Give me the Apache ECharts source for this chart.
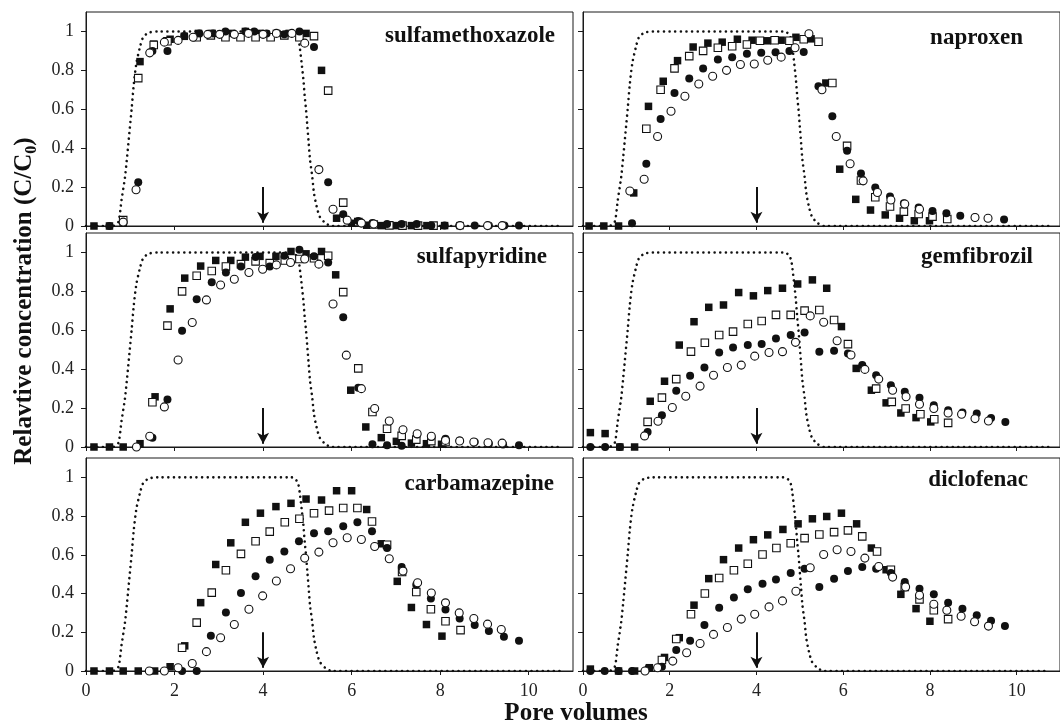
<!DOCTYPE html>
<html><head><meta charset="utf-8">
<script src="https://cdn.jsdelivr.net/npm/echarts@6/dist/echarts.min.js"></script>
<style>html,body{margin:0;padding:0;background:#fff}#c{width:1060px;height:727px}</style>
</head><body><div id="c"></div>
<script>
// ---------- data ----------
const xTicks = [0, 2, 4, 6, 8, 10];
const yTicks = [0, 0.2, 0.4, 0.6, 0.8, 1];
const panelTitles = ['sulfamethoxazole', 'naproxen', 'sulfapyridine', 'gemfibrozil', 'carbamazepine', 'diclofenac'];
const xAxisName = 'Pore volumes';
const yAxisName = 'Relavtive concentration (C/C';
const yAxisSub = '0';

// conservative tracer (dotted curve)
const tracer = [[0,0],[0.6,0],[0.73,0.02],[0.8,0.13],[0.88,0.25],[0.93,0.36],[0.98,0.48],[1.03,0.6],[1.08,0.73],[1.14,0.84],[1.22,0.92],[1.29,0.97],[1.41,0.993],[1.6,1],[4.65,1],[4.75,0.985],[4.8,0.96],[4.83,0.916],[4.87,0.838],[4.91,0.753],[4.94,0.667],[4.97,0.598],[5.0,0.512],[5.03,0.426],[5.06,0.34],[5.11,0.254],[5.15,0.168],[5.21,0.1],[5.28,0.048],[5.4,0.017],[5.55,0],[10.75,0]];
// end of injection arrow
const arrowX = 4, arrowTop = 0.2, arrowTip = 0.017;

// sulfamethoxazole
const smxFilledSquare = [[0.18,0],[0.53,0],[0.84,0.015],[1.22,0.845],[1.53,0.935],[1.9,0.96],[2.22,0.975],[2.54,0.99],[2.85,0.99],[3.29,0.99],[3.6,1.0],[3.93,0.99],[4.3,0.99],[4.59,0.99],[4.97,0.99],[5.32,0.8],[5.66,0.04],[6.0,0.014],[6.34,0.004],[6.67,0.002],[7.02,0.002],[7.35,0.002],[7.7,0.002],[8.1,0.002],[8.45,0.002]];
const smxOpenSquare = [[0.84,0.03],[1.18,0.76],[1.53,0.93],[1.84,0.95],[2.5,0.97],[2.82,0.98],[3.15,0.97],[3.49,0.97],[3.83,0.97],[4.17,0.97],[4.48,0.98],[4.82,0.97],[5.15,0.976],[5.47,0.696],[5.81,0.12],[6.15,0.02],[6.5,0.008],[6.85,0.003],[7.15,0.002],[7.5,0.002],[7.85,0.002]];
const smxFilledCircle = [[0.53,0],[0.84,0.02],[1.18,0.225],[1.5,0.9],[1.84,0.9],[2.22,0.976],[2.56,0.99],[2.87,0.99],[3.15,1.0],[3.6,1.0],[3.8,1.0],[4.08,0.99],[4.48,0.985],[4.82,1.0],[5.15,0.92],[5.47,0.225],[5.81,0.06],[6.15,0.026],[6.47,0.015],[6.8,0.01],[7.13,0.01],[7.47,0.01],[7.8,0.003],[8.1,0.003],[8.43,0.002],[8.78,0.002],[9.1,0.002],[9.45,0.002],[9.78,0.002]];
const smxOpenCircle = [[0.84,0.02],[1.13,0.186],[1.44,0.89],[1.77,0.945],[2.08,0.954],[2.42,0.97],[2.75,0.985],[3.02,0.985],[3.35,0.985],[3.67,0.99],[4.0,0.985],[4.3,0.99],[4.65,0.99],[4.94,0.94],[5.26,0.29],[5.58,0.086],[5.9,0.03],[6.22,0.015],[6.5,0.01],[8.45,0.002],[9.07,0.002],[9.4,0.002]];

// naproxen
const npxFilledSquare = [[0.14,0],[0.48,0],[0.82,0],[1.17,0.17],[1.51,0.615],[1.85,0.744],[2.18,0.85],[2.54,0.92],[2.88,0.94],[3.21,0.945],[3.56,0.96],[3.9,0.955],[4.25,0.952],[4.57,0.955],[4.91,0.97],[5.26,0.962],[5.6,0.735],[5.92,0.292],[6.29,0.137],[6.63,0.082],[6.97,0.057],[7.3,0.04],[7.64,0.027],[7.99,0.027]];
const npxOpenSquare = [[1.46,0.5],[1.79,0.7],[2.11,0.81],[2.45,0.873],[2.77,0.9],[3.11,0.916],[3.44,0.924],[3.78,0.933],[4.08,0.952],[4.42,0.955],[4.76,0.952],[5.09,0.96],[5.43,0.947],[5.75,0.735],[6.09,0.412],[6.41,0.234],[6.74,0.148],[7.08,0.1],[7.4,0.074],[7.74,0.062],[8.06,0.048],[8.4,0.036]];
const npxFilledCircle = [[1.13,0.014],[1.46,0.32],[1.79,0.55],[2.11,0.684],[2.45,0.758],[2.77,0.81],[3.11,0.856],[3.44,0.868],[3.78,0.885],[4.11,0.89],[4.44,0.893],[4.76,0.9],[5.09,0.895],[5.43,0.718],[5.75,0.564],[6.09,0.387],[6.41,0.27],[6.74,0.198],[7.08,0.151],[7.4,0.117],[7.74,0.095],[8.06,0.077],[8.38,0.065],[8.7,0.053],[9.04,0.045],[9.71,0.034]];
const npxOpenCircle = [[1.08,0.18],[1.41,0.24],[1.72,0.46],[2.03,0.59],[2.35,0.667],[2.67,0.73],[2.99,0.77],[3.31,0.8],[3.63,0.83],[3.95,0.833],[4.26,0.852],[4.57,0.868],[4.89,0.916],[5.21,0.988],[5.51,0.7],[5.84,0.46],[6.16,0.32],[6.46,0.232],[6.79,0.172],[7.1,0.134],[7.42,0.113],[7.76,0.086],[9.04,0.044],[9.34,0.04]];

// sulfapyridine
const spyFilledSquare = [[0.18,0],[0.53,0],[0.84,0],[1.22,0.017],[1.56,0.258],[1.9,0.71],[2.23,0.868],[2.59,0.93],[2.93,0.959],[3.27,0.959],[3.6,0.976],[3.93,0.98],[4.29,0.98],[4.63,1.005],[4.97,0.993],[5.32,1.005],[5.64,0.885],[5.98,0.292],[6.32,0.103],[6.67,0.048],[7.01,0.029],[7.35,0.02],[7.69,0.017],[8.03,0.014]];
const spyOpenSquare = [[1.5,0.23],[1.84,0.624],[2.17,0.8],[2.5,0.88],[2.84,0.905],[3.16,0.928],[3.5,0.94],[3.83,0.954],[4.15,0.945],[4.49,0.959],[4.82,0.966],[5.15,0.97],[5.47,0.983],[5.81,0.796],[6.15,0.404],[6.47,0.18],[6.8,0.094],[7.13,0.057],[7.46,0.038],[7.8,0.03],[8.12,0.026]];
const spyFilledCircle = [[1.5,0.048],[1.84,0.244],[2.17,0.598],[2.5,0.76],[2.84,0.847],[3.16,0.897],[3.5,0.928],[3.83,0.976],[4.15,0.928],[4.48,0.983],[4.82,1.014],[5.15,0.98],[5.47,0.948],[5.81,0.667],[6.15,0.304],[6.47,0.014],[6.8,0.009],[7.13,0.006],[7.48,0.064],[7.8,0.052],[8.12,0.043],[8.44,0.034],[8.78,0.026],[9.1,0.017],[9.42,0.013],[9.78,0.009]];
const spyOpenCircle = [[1.14,0],[1.44,0.055],[1.77,0.206],[2.08,0.447],[2.4,0.64],[2.72,0.756],[3.04,0.833],[3.35,0.862],[3.68,0.897],[3.99,0.914],[4.3,0.936],[4.62,0.948],[4.94,0.966],[5.26,0.94],[5.58,0.735],[5.88,0.472],[6.22,0.3],[6.52,0.198],[6.85,0.134],[7.16,0.089],[7.48,0.068],[7.8,0.055],[8.12,0.034],[8.44,0.031],[8.76,0.026],[9.08,0.022],[9.4,0.02]];

// gemfibrozil
const gemFilledSquare = [[0.17,0.074],[0.51,0.069],[0.85,0],[1.19,0],[1.55,0.235],[1.88,0.338],[2.22,0.524],[2.56,0.644],[2.9,0.718],[3.24,0.73],[3.59,0.794],[3.93,0.777],[4.26,0.804],[4.6,0.816],[4.95,0.838],[5.29,0.859],[5.62,0.816],[5.96,0.619],[6.3,0.404],[6.65,0.292],[6.99,0.227],[7.33,0.175],[7.68,0.151],[8.02,0.129]];
const gemOpenSquare = [[1.49,0.129],[1.82,0.254],[2.15,0.349],[2.49,0.49],[2.81,0.536],[3.14,0.576],[3.46,0.593],[3.8,0.632],[4.12,0.648],[4.45,0.679],[4.79,0.679],[5.11,0.701],[5.45,0.704],[5.79,0.653],[6.11,0.529],[6.76,0.3],[7.12,0.232],[7.44,0.198],[7.78,0.168],[8.1,0.143],[8.42,0.124]];
const gemFilledCircle = [[0.17,0],[0.51,0],[0.85,0],[1.49,0.077],[1.82,0.163],[2.15,0.289],[2.47,0.366],[2.8,0.409],[3.14,0.486],[3.46,0.512],[3.8,0.524],[4.12,0.529],[4.45,0.558],[4.79,0.576],[5.11,0.589],[5.45,0.49],[5.79,0.495],[6.11,0.481],[6.44,0.421],[6.76,0.369],[7.1,0.318],[7.42,0.284],[7.76,0.253],[8.09,0.215],[8.42,0.189],[8.75,0.177],[9.08,0.172],[9.41,0.149],[9.74,0.129]];
const gemOpenCircle = [[1.42,0.057],[1.73,0.132],[2.06,0.203],[2.37,0.261],[2.7,0.313],[3.01,0.369],[3.33,0.409],[3.65,0.421],[3.96,0.467],[4.29,0.486],[4.6,0.49],[4.9,0.538],[5.24,0.674],[5.55,0.641],[5.86,0.546],[6.18,0.473],[6.5,0.399],[6.82,0.349],[7.14,0.292],[7.45,0.258],[7.76,0.22],[8.09,0.198],[8.42,0.175],[8.73,0.168],[9.04,0.146],[9.35,0.134]];

// carbamazepine
const cbzFilledSquare = [[0.18,0],[0.53,0],[0.84,0],[1.18,0],[1.55,0],[1.9,0.022],[2.23,0.13],[2.59,0.353],[2.93,0.55],[3.27,0.662],[3.6,0.768],[3.94,0.815],[4.29,0.849],[4.63,0.866],[4.97,0.888],[5.32,0.883],[5.66,0.931],[6.0,0.931],[6.34,0.834],[6.67,0.657],[7.03,0.463],[7.35,0.328],[7.69,0.24],[8.04,0.18]];
const cbzOpenSquare = [[2.17,0.12],[2.5,0.25],[2.84,0.405],[3.16,0.52],[3.5,0.605],[3.83,0.67],[4.15,0.72],[4.49,0.768],[4.82,0.786],[5.15,0.815],[5.49,0.828],[5.81,0.842],[6.13,0.842],[6.46,0.772],[6.8,0.652],[7.14,0.511],[7.46,0.408],[7.79,0.319],[8.12,0.257],[8.46,0.211]];
const cbzFilledCircle = [[2.17,0],[2.5,0],[2.82,0.182],[3.16,0.302],[3.5,0.403],[3.83,0.489],[4.15,0.575],[4.48,0.617],[4.81,0.67],[5.15,0.712],[5.47,0.722],[5.81,0.748],[6.13,0.768],[6.46,0.722],[6.8,0.635],[7.13,0.537],[7.46,0.446],[7.79,0.374],[8.12,0.317],[8.44,0.271],[8.78,0.237],[9.1,0.206],[9.44,0.177],[9.78,0.156]];
const cbzOpenCircle = [[1.43,0],[1.77,0],[2.08,0.017],[2.4,0.039],[2.72,0.1],[3.04,0.172],[3.35,0.24],[3.68,0.319],[3.99,0.388],[4.3,0.465],[4.62,0.528],[4.94,0.583],[5.26,0.614],[5.58,0.662],[5.9,0.688],[6.22,0.679],[6.52,0.643],[6.85,0.58],[7.16,0.516],[7.49,0.456],[7.8,0.403],[8.12,0.352],[8.43,0.3],[8.76,0.271],[9.07,0.242],[9.38,0.214]];

// diclofenac
const dclFilledSquare = [[0.17,0.01],[0.82,0],[1.19,0],[1.53,0.017],[1.88,0.07],[2.22,0.172],[2.56,0.34],[2.9,0.477],[3.24,0.575],[3.59,0.635],[3.93,0.678],[4.26,0.703],[4.61,0.731],[4.96,0.76],[5.29,0.786],[5.62,0.798],[5.96,0.815],[6.31,0.76],[6.65,0.635],[6.99,0.523],[7.33,0.396],[7.68,0.322],[8.0,0.257]];
const dclOpenSquare = [[1.82,0.057],[2.15,0.165],[2.49,0.293],[2.81,0.4],[3.14,0.48],[3.48,0.52],[3.8,0.554],[4.14,0.602],[4.46,0.635],[4.79,0.66],[5.11,0.686],[5.45,0.705],[5.79,0.717],[6.11,0.726],[6.44,0.695],[6.78,0.617],[7.1,0.523],[7.42,0.434],[7.76,0.37],[8.09,0.314],[8.42,0.268]];
const dclFilledCircle = [[0.17,0],[0.5,0],[0.82,0],[1.13,0],[1.51,0.014],[1.82,0.022],[2.15,0.108],[2.47,0.156],[2.8,0.237],[3.14,0.326],[3.48,0.379],[3.8,0.422],[4.14,0.451],[4.45,0.472],[4.79,0.506],[5.11,0.528],[5.45,0.434],[5.79,0.477],[6.11,0.516],[6.44,0.537],[6.76,0.528],[7.1,0.506],[7.42,0.46],[7.76,0.425],[8.09,0.396],[8.42,0.352],[8.75,0.322],[9.08,0.288],[9.41,0.259],[9.73,0.232]];
const dclOpenCircle = [[1.43,0],[1.72,0.017],[2.07,0.051],[2.39,0.094],[2.7,0.142],[3.01,0.189],[3.33,0.225],[3.65,0.268],[3.96,0.293],[4.29,0.331],[4.6,0.362],[4.91,0.412],[5.24,0.533],[5.55,0.602],[5.86,0.626],[6.18,0.617],[6.5,0.583],[6.82,0.54],[7.14,0.485],[7.44,0.434],[7.76,0.391],[8.09,0.345],[8.39,0.314],[8.72,0.283],[9.03,0.254],[9.35,0.232]];

const panelData = [
  [smxFilledSquare, smxOpenSquare, smxFilledCircle, smxOpenCircle],
  [npxFilledSquare, npxOpenSquare, npxFilledCircle, npxOpenCircle],
  [spyFilledSquare, spyOpenSquare, spyFilledCircle, spyOpenCircle],
  [gemFilledSquare, gemOpenSquare, gemFilledCircle, gemOpenCircle],
  [cbzFilledSquare, cbzOpenSquare, cbzFilledCircle, cbzOpenCircle],
  [dclFilledSquare, dclOpenSquare, dclFilledCircle, dclOpenCircle]
];

// ---------- layout ----------
const gridTops = [12, 233, 458], gridHeights = [214, 214, 213];
const gridLefts = [86, 583], gridWidths = [487, 488];
const titleRight = [555, 1023, 547, 1033, 554, 1028];
const titleMid = [36.5, 38, 257, 257, 484, 480.5];
const FONT = '"Liberation Serif","Times New Roman",serif';
const INK = '#111';

const markerStyles = [
  { symbol: 'rect', size: 7.5, itemStyle: { color: INK, borderWidth: 0, opacity: 1 } },
  { symbol: 'rect', size: 7.5, itemStyle: { color: '#fff', borderColor: INK, borderWidth: 1.1, opacity: 1 } },
  { symbol: 'circle', size: 8, itemStyle: { color: INK, borderWidth: 0, opacity: 1 } },
  { symbol: 'circle', size: 8, itemStyle: { color: '#fff', borderColor: INK, borderWidth: 1.1, opacity: 1 } }
];
const drawOrder = [3, 1, 2, 0];

const grids = [], xAxes = [], yAxes = [], series = [], graphics = [];
for (let i = 0; i < 6; i++) {
  const row = Math.floor(i / 2), col = i % 2;
  grids.push({ left: gridLefts[col], top: gridTops[row], width: gridWidths[col], height: gridHeights[row],
    show: true, borderColor: '#1a1a1a', borderWidth: 1, backgroundColor: 'transparent', containLabel: false });
  xAxes.push({ gridIndex: i, type: 'value', min: 0, max: 11,
    axisLine: { show: true, onZero: false, lineStyle: { color: '#1a1a1a', width: 1 } },
    axisTick: { show: true, inside: false, length: 4, customValues: xTicks, lineStyle: { color: '#1a1a1a' } },
    axisLabel: { show: row === 2, customValues: xTicks, margin: 11, fontFamily: FONT, fontSize: 18, color: '#222' },
    splitLine: { show: false } });
  yAxes.push({ gridIndex: i, type: 'value', min: 0, max: 1.1,
    axisLine: { show: true, onZero: false, lineStyle: { color: '#1a1a1a', width: 1 } },
    axisTick: { show: true, inside: false, length: 5, customValues: yTicks, lineStyle: { color: '#1a1a1a' } },
    axisLabel: { show: col === 0, customValues: yTicks, margin: 12, fontFamily: FONT, fontSize: 18, color: '#222',
      formatter: v => (v === 0 ? '0' : v === 1 ? '1' : v.toFixed(1)) },
    splitLine: { show: false } });
  series.push({ type: 'line', xAxisIndex: i, yAxisIndex: i, data: tracer, showSymbol: false, smooth: 0.25,
    silent: true, z: 1,
    lineStyle: { color: INK, width: 2.6, type: [0.01, 5.6], cap: 'round' },
    markLine: { silent: true, symbol: ['none', 'arrow'], symbolSize: [9, 11], label: { show: false },
      lineStyle: { color: INK, width: 2, type: 'solid' },
      data: [[{ coord: [arrowX, arrowTop] }, { coord: [arrowX, arrowTip] }]] } });
  for (const k of drawOrder) {
    const m = markerStyles[k];
    series.push({ type: 'scatter', xAxisIndex: i, yAxisIndex: i, data: panelData[i][k],
      symbol: m.symbol, symbolSize: m.size, itemStyle: m.itemStyle, z: 3 + k, silent: true });
  }
  graphics.push({ type: 'text', x: titleRight[i], y: titleMid[i],
    style: { text: panelTitles[i], fill: INK, font: 'bold 23px ' + FONT, align: 'right', verticalAlign: 'middle' } });
}
graphics.push({ type: 'text', x: 576, y: 714,
  style: { text: xAxisName, fill: INK, font: 'bold 25px ' + FONT, align: 'center', verticalAlign: 'middle' } });
graphics.push({ type: 'text', x: 25, y: 301, rotation: Math.PI / 2,
  style: { text: '{a|' + yAxisName + '}{b|' + yAxisSub + '}{a|)}', align: 'center', verticalAlign: 'middle',
    rich: { a: { fontFamily: FONT, fontWeight: 'bold', fontSize: 25, fill: INK, lineHeight: 30, verticalAlign: 'middle' },
            b: { fontFamily: FONT, fontWeight: 'bold', fontSize: 16, fill: INK, lineHeight: 30, verticalAlign: 'bottom' } } } });

const chart = echarts.init(document.getElementById('c'), null, { renderer: 'canvas' });
chart.setOption({ backgroundColor: '#fff', animation: false, grid: grids, xAxis: xAxes, yAxis: yAxes, series: series, graphic: graphics });
</script></body></html>
